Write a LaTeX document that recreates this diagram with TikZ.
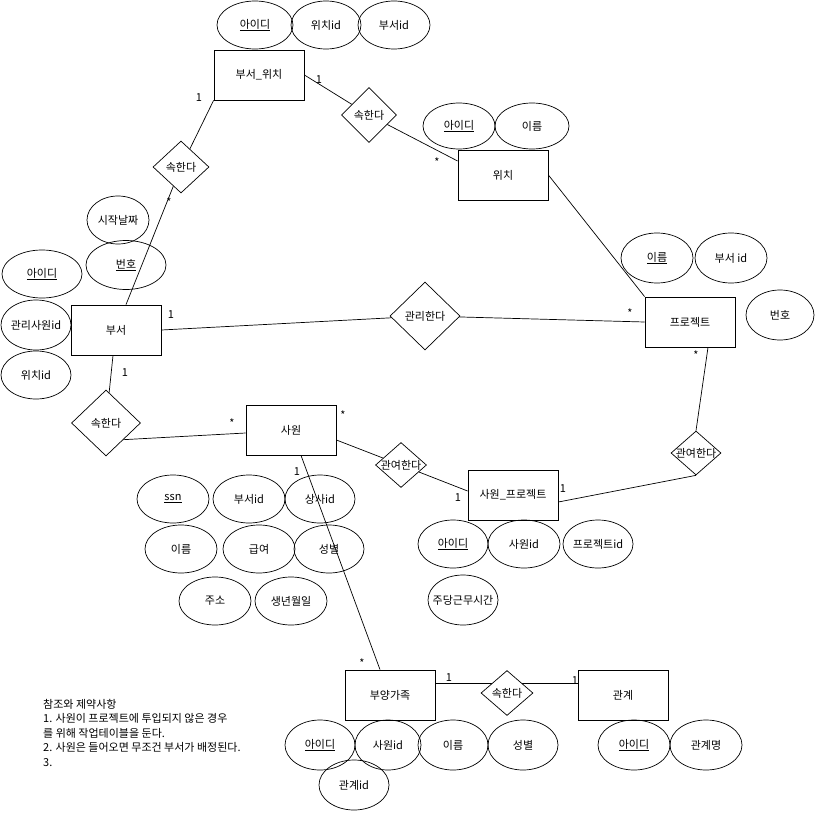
\documentclass[tikz, border=0pt]{standalone}
\usepackage{fontspec}
\usepackage{tikz}
\usetikzlibrary{shapes, backgrounds}
\newfontfamily\krfont{Noto Sans CJK KR}
\newcommand{\ztext}[1]{\makebox[0pt]{#1}}

\begin{document}
\begin{tikzpicture}[x = 1pt, y = -1pt,
        font = \krfont\fontsize{11}{13}\selectfont,
        entity/.style = {draw, rectangle, minimum width = 90pt, minimum height = 50pt, inner sep = 0pt, line width = 0.8pt},
        attr/.style = {draw, ellipse, minimum width = 72pt, minimum height = 48pt, inner sep = 0pt, line width = 0.7pt},
        rel/.style = {draw, diamond, fill = white, inner sep = 0pt, line width = 0.7pt},
        card/.style = {inner sep = 0pt},
        link/.style = {black, line width = 0.7pt}]
            \useasboundingbox (0, 0) rectangle (816, 816);

            \node[entity] (bw) at (259, 75) {부서\_위치};
            \node[entity] (wc) at (503, 175) {위치};
            \node[entity] (bs) at (116, 330) {부서};
            \node[entity] (pj) at (690, 322) {프로젝트};
            \node[entity] (sw) at (291, 430) {사원};
            \node[entity] (sp) at (513, 495) {사원\_프로젝트};
            \node[entity] (bg) at (390, 695) {부양가족};
            \node[entity] (gg) at (623, 695) {관계};

            \node[attr, minimum width = 76pt] (bwid) at (255, 25) {\ztext{\underline{아이디}}};
            \node[attr, minimum width = 70pt] (bwwc) at (326, 25) {\ztext{위치id}};
            \node[attr] (bwbs) at (394, 25) {\ztext{부서id}};

            \node[attr, minimum height = 46pt] (wcid) at (459, 126) {\ztext{\underline{아이디}}};
            \node[attr, minimum width = 74pt, minimum height = 46pt] (wcname) at (532, 126) {\ztext{이름}};

            \node[attr, minimum width = 62pt] (bsdate) at (118, 220) {\ztext{시작날짜}};
            \node[attr, minimum width = 80pt, minimum height = 49pt] (bsno) at (126, 265) {\ztext{\underline{번호}}};
            \node[attr, minimum width = 80pt] (bsid) at (42, 274) {\ztext{\underline{아이디}}};
            \node[attr, minimum width = 70pt, minimum height = 50pt] (bsmgr) at (36, 325) {\ztext{관리사원id}};
            \node[attr, minimum width = 70pt] (bswc) at (36, 375) {\ztext{위치id}};

            \node[attr, minimum height = 50pt] (pjname) at (657, 258) {\ztext{\underline{이름}}};
            \node[attr, minimum height = 50pt] (pjbs) at (731, 258) {\ztext{부서 id}};
            \node[attr, minimum width = 68pt, minimum height = 50pt] (pjno) at (780, 315) {\ztext{번호}};

            \node[attr] (swssn) at (173, 499) {\ztext{\underline{ssn}}};
            \node[attr] (swbs) at (249, 499) {\ztext{부서id}};
            \node[attr, minimum width = 70pt] (swboss) at (320, 499) {\ztext{상사id}};
            \node[attr] (swname) at (181, 549) {\ztext{이름}};
            \node[attr] (swpay) at (259, 549) {\ztext{급여}};
            \node[attr, minimum width = 70pt] (swsex) at (329, 549) {\ztext{성별}};
            \node[attr] (swaddr) at (215, 601) {\ztext{주소}};
            \node[attr] (swbirth) at (291, 601) {\ztext{생년월일}};

            \node[attr, minimum width = 70pt] (spid) at (453, 544) {\ztext{\underline{아이디}}};
            \node[attr] (spsw) at (524, 544) {\ztext{사원id}};
            \node[attr, minimum width = 70pt] (sppj) at (598, 544) {\ztext{프로젝트id}};
            \node[attr, minimum width = 70pt, minimum height = 50pt] (sphour) at (463, 600) {\ztext{주당근무시간}};

            \node[attr, minimum width = 70pt, minimum height = 50pt] (bgid) at (320, 745) {\ztext{\underline{아이디}}};
            \node[attr, minimum width = 66pt, minimum height = 50pt] (bgsw) at (388, 745) {\ztext{사원id}};
            \node[attr, minimum width = 70pt, minimum height = 50pt] (bgname) at (453, 745) {\ztext{이름}};
            \node[attr, minimum width = 70pt, minimum height = 50pt] (bgsex) at (523, 745) {\ztext{성별}};
            \node[attr, minimum width = 70pt, minimum height = 50pt] (bggg) at (354, 785) {\ztext{관계id}};

            \node[attr, minimum height = 50pt] (ggid) at (634, 745) {\ztext{\underline{아이디}}};
            \node[attr, minimum height = 50pt] (ggname) at (706, 745) {\ztext{관계명}};

            \node[rel, minimum width = 55pt, minimum height = 55pt] (r1) at (369, 115) {\ztext{속한다}};
            \node[rel, minimum width = 56pt, minimum height = 52pt] (r2) at (181, 167) {\ztext{속한다}};
            \node[rel, minimum width = 70pt, minimum height = 68pt] (r3) at (425, 316) {\ztext{관리한다}};
            \node[rel, minimum width = 69pt, minimum height = 66pt] (r4) at (106, 423) {\ztext{속한다}};
            \node[rel, minimum width = 51pt, minimum height = 45pt] (r5) at (401, 465) {\ztext{관여한다}};
            \node[rel, minimum width = 50pt, minimum height = 44pt] (r6) at (696, 453) {\ztext{관여한다}};
            \node[rel, minimum width = 52pt, minimum height = 45pt] (r7) at (507, 693) {\ztext{속한다}};

            \begin{scope}[on background layer]
                \draw[link] (bw.east) -- (r1);
                \draw[link] (r1) -- ([yshift = 14pt]wc.west);
                \draw[link] (bw.south west) -- (r2);
                \draw[link] (r2) -- ([xshift = 10pt]bs.north);
                \draw[link] (bs.east) -- (r3);
                \draw[link] (r3) -- (pj.west);
                \draw[link] (wc.east) -- (pj.north west);
                \draw[link] ([xshift = -3pt]bs.south) -- (r4);
                \draw[link] (r4.south east) -- ([yshift = -3pt]sw.west);
                \draw[link] ([yshift = -10pt]sw.east) -- (r5);
                \draw[link] (r5) -- ([yshift = 4pt]sp.west);
                \draw[link] ([yshift = -7pt]sp.east) -- (r6.south);
                \draw[link] (r6.north) -- ([xshift = 18pt]pj.south);
                \draw[link] ([xshift = 10pt]sw.south) -- ([xshift = -10pt]bg.north);
                \draw[link] ([yshift = 12pt]bg.east) -- ([yshift = 12pt]gg.west);
            \end{scope}

            \node[card] (c1) at (319, 80) {1};
            \node[card] (c2) at (437, 162) {*};
            \node[card] (c3) at (199, 98) {1};
            \node[card] (c4) at (169, 202) {*};
            \node[card] (c5) at (171, 315) {1};
            \node[card] (c6) at (630, 313) {*};
            \node[card] (c7) at (125, 373) {1};
            \node[card] (c8) at (232, 423) {*};
            \node[card] (c9) at (343, 415) {*};
            \node[card] (c10) at (458, 498) {1};
            \node[card] (c11) at (563, 489) {1};
            \node[card] (c12) at (696, 355) {*};
            \node[card] (c13) at (297, 472) {1};
            \node[card] (c14) at (362, 663) {*};
            \node[card] (c15) at (449, 678) {1};
            \node[card] (c16) at (575, 681) {1};

            \node[anchor = north west, align = left, inner sep = 0pt, font = \krfont\fontsize{11}{14.5}\selectfont] (note) at (43, 699) {참조와 제약사항\\1. 사원이 프로젝트에 투입되지 않은 경우\\를 위해 작업테이블을 둔다.\\2. 사원은 들어오면 무조건 부서가 배정된다.\\3.};
        \end{tikzpicture}
\end{document}
